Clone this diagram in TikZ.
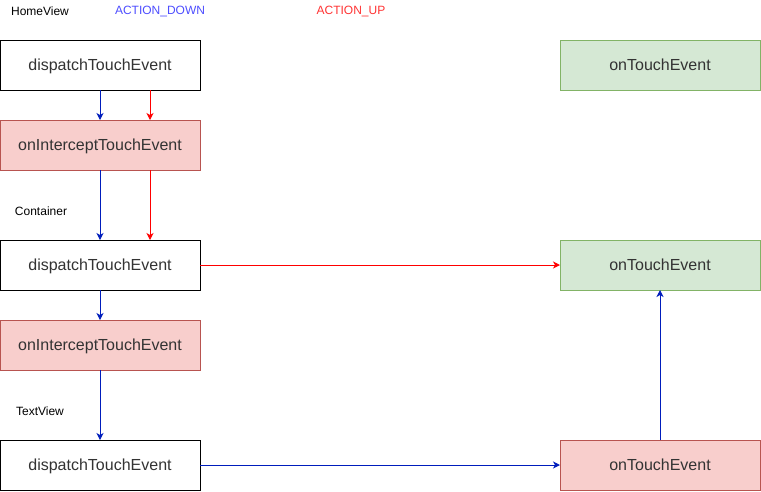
\documentclass[tikz,border=0pt]{standalone}
\usepackage{fontspec}
\setmainfont{Liberation Sans}
\usepackage{xcolor}
\usepackage{tikz}
\usetikzlibrary{arrows.meta,positioning}
\definecolor{tvtext}{HTML}{333333}
\definecolor{tvblue}{HTML}{001DBC}
\definecolor{tvred}{HTML}{FF0000}
\definecolor{tvdown}{HTML}{4D4DFF}
\definecolor{tvup}{HTML}{FF3333}
\definecolor{tvpink}{HTML}{F8CECC}
\definecolor{tvpinkline}{HTML}{B85450}
\definecolor{tvgreen}{HTML}{D5E8D4}
\definecolor{tvgreenline}{HTML}{82B366}

\begin{document}
\begin{tikzpicture}[
  x=1pt, y=1pt,
  font=\fontsize{16}{19}\selectfont,
  node distance=30pt,
  box/.style={draw, line width=1pt, outer sep=0pt, minimum width=200pt,
              minimum height=50pt, text=tvtext, text height=11.6pt, text depth=0.5pt},
  plain/.style={box, fill=white},
  veto/.style={box, fill=tvpink, draw=tvpinkline},
  handled/.style={box, fill=tvgreen, draw=tvgreenline},
  tag/.style={font=\fontsize{12}{14}\selectfont},
  down/.style={-{Stealth[length=7pt,width=7pt,inset=2pt]}, tvblue, line width=1pt},
  up/.style={-{Stealth[length=7pt,width=7pt,inset=2pt]}, tvred, line width=1pt}
]
\useasboundingbox (0,0) rectangle (761,-491);

% left column: the view chain
\node[plain] (homeDispatch) at (100,-65) {dispatchTouchEvent};
\node[veto, below=of homeDispatch] (homeIntercept) {onInterceptTouchEvent};
\node[plain, below=70pt of homeIntercept] (contDispatch) {dispatchTouchEvent};
\node[veto, below=of contDispatch] (contIntercept) {onInterceptTouchEvent};
\node[plain, below=70pt of contIntercept] (textDispatch) {dispatchTouchEvent};

% right column
\node[handled, right=360pt of homeDispatch] (homeTouch) {onTouchEvent};
\node[handled, right=360pt of contDispatch] (contTouch) {onTouchEvent};
\node[veto, right=360pt of textDispatch] (textTouch) {onTouchEvent};

% labels
\node[tag] (lblHome) at (40,-11) {HomeView};
\node[tag, text=tvdown] (lblDown) at (160,-11) {ACTION\_DOWN};
\node[tag, text=tvup] (lblUp) at (351,-11) {ACTION\_UP};
\node[tag] (lblCont) at (41,-211) {Container};
\node[tag] (lblText) at (40,-411) {TextView};

% ACTION_DOWN
\draw[down] (homeDispatch.south) -- (homeIntercept.north);
\draw[down] (homeIntercept.south) -- (contDispatch.north);
\draw[down] (contDispatch.south) -- (contIntercept.north);
\draw[down] (contIntercept.south) -- (textDispatch.north);
\draw[down] (textDispatch.east) -- (textTouch.west);
\draw[down] (textTouch.north) -- (contTouch.south);

% ACTION_UP
\draw[up] ([xshift=50pt]homeDispatch.south) -- ([xshift=50pt]homeIntercept.north);
\draw[up] ([xshift=50pt]homeIntercept.south) -- ([xshift=50pt]contDispatch.north);
\draw[up] (contDispatch.east) -- (contTouch.west);

\end{tikzpicture}
\end{document}
